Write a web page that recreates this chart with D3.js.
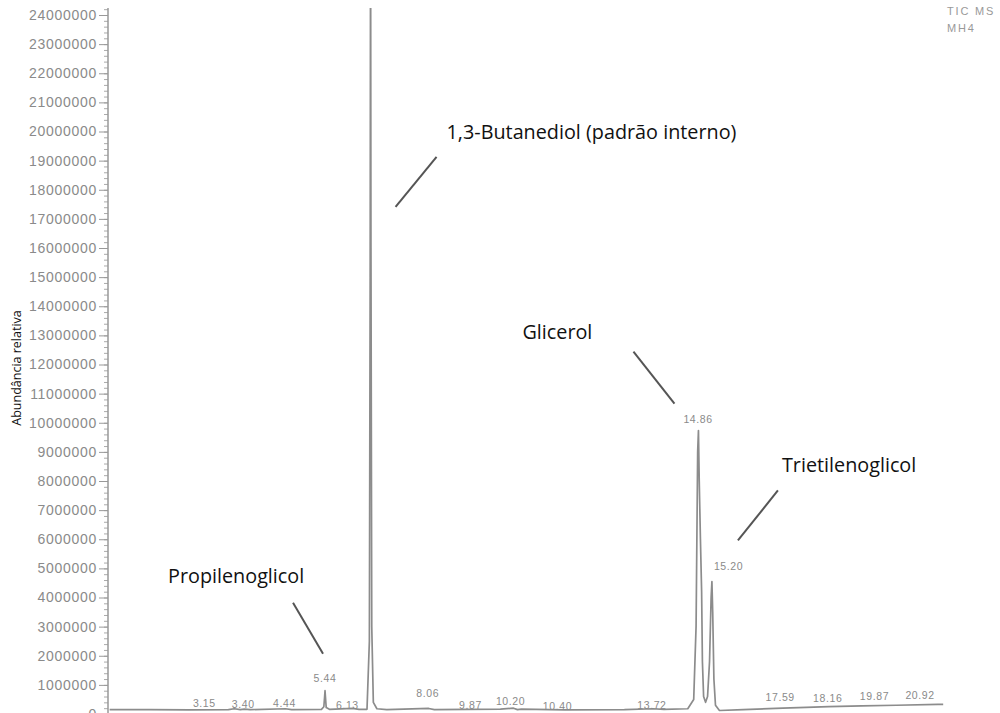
<!DOCTYPE html>
<html>
<head>
<meta charset="UTF-8">
<title>Cromatograma TIC</title>
<script src="https://cdn.jsdelivr.net/npm/d3@7/dist/d3.min.js"></script>
<style>
  body { margin: 0; background: #fff; }
  svg { display: block; }
  .tick text { font-family: "Liberation Sans", Arial, sans-serif; }
</style>
</head>
<body>
<script>
  // ---- data ----
  // trace: retention time (min) and abundance (counts)
  const traceTime = [0.00, 1.00, 2.00, 3.00, 3.15, 3.30, 3.40, 3.55, 4.44, 4.60, 5.35, 5.41, 5.43, 5.44, 5.45, 5.47, 5.55,
    6.13, 6.30, 6.50, 6.56, 6.58, 6.59, 6.60, 6.62, 6.66, 6.75, 7.00, 8.06, 8.20, 9.87, 10.20, 10.30, 10.40, 11.50,
    13.00, 13.72, 14.00, 14.60, 14.75, 14.81, 14.85, 14.87, 14.89, 14.92, 14.95, 14.97, 15.00, 15.05, 15.10, 15.15,
    15.19, 15.21, 15.23, 15.26, 15.30, 15.40, 16.00, 17.00, 17.59, 18.16, 19.00, 19.87, 20.92, 21.05];
  const traceAbund = [150000, 150000, 140000, 150000, 180000, 150000, 170000, 150000, 180000, 150000, 160000, 250000,
    600000, 800000, 600000, 220000, 160000,
    190000, 160000, 160000, 2500000, 15000000, 28000000, 16000000, 3000000, 400000, 180000, 150000, 190000, 150000,
    170000, 200000, 150000, 170000, 140000,
    150000, 180000, 160000, 180000, 500000, 3000000, 9000000, 9730000, 8000000, 6000000, 4200000, 1800000, 600000,
    400000, 600000, 1800000,
    4000000, 4550000, 3500000, 1200000, 300000, 120000, 150000, 200000, 230000, 250000, 280000, 300000, 330000, 330000];

  // labelled peaks (retention time, apex abundance)
  const peakTimes = [3.15, 3.40, 4.44, 5.44, 6.13, 8.06, 9.87, 10.20, 10.40, 13.72, 14.86, 15.20, 17.59, 18.16, 19.87, 20.92];
  const peakHeights = [180000, 170000, 180000, 800000, 190000, 190000, 170000, 200000, 170000, 180000, 9730000, 4550000,
    230000, 250000, 300000, 330000];

  // compound annotations
  const compoundNames = ["Propilenoglicol", "1,3-Butanediol (padrão interno)", "Glicerol", "Trietilenoglicol"];
  const compoundTimes = [5.44, 6.59, 14.87, 15.21];
  const compoundLevels = [800000, 17000000, 9730000, 4550000];

  const yTicks = d3.range(0, 24000001, 1000000);
  const yMinorTicks = d3.range(0, 24200001, 200000);
  const yTitle = "Abundância relativa";
  const cornerText = ["TIC MS", "MH4"];

  // ---- layout ----
  const w = 1000, h = 713;
  // label shift (px) relative to the peak, and lift above the apex
  const labelDx = [-30, -1, -1, 0, -5, -1, -30, -3, 36, -1, 0, 17, -26, -1, -22, -18];
  const labelLift = [2, 1, 2, 9, -1, 11, 0, 3, -1, 0, 8, 11, 6, 5, 5, 5];
  // annotation offsets from the anchor point: [line x1,y1,x2,y2, text x,y]
  const annotLayout = [
    [-32, -88, -2, -37, -157, -108],
    [66, -62, 25, -12, 76, -80],
    [-65, -79, -24, -27, -176, -92],
    [66, -91, 26, -41, 70, -109]
  ];

  const x = d3.scaleLinear().domain([0, 21]).range([109.6, 941.2]);
  const y = d3.scaleLinear().domain([0, 24000000]).range([714, 15]);

  const svg = d3.select("body").append("svg")
    .attr("width", w)
    .attr("height", h);

  svg.append("defs").append("clipPath").attr("id", "plot")
    .append("rect").attr("x", 109).attr("y", 8).attr("width", 900).attr("height", h);

  // y axis: minor ticks, then major ticks with labels
  svg.append("g")
    .attr("transform", "translate(108,0)")
    .call(d3.axisLeft(y).tickValues(yMinorTicks).tickSize(4).tickFormat(""))
    .call(g => g.select(".domain").remove())
    .call(g => g.selectAll("line").attr("stroke", "#aaa"));

  svg.append("g")
    .attr("transform", "translate(108,0)")
    .call(d3.axisLeft(y).tickValues(yTicks).tickSize(9).tickPadding(2).tickFormat(d3.format("d")))
    .call(g => g.select(".domain").remove())
    .call(g => g.selectAll("line").attr("stroke", "#999"))
    .call(g => g.selectAll("text")
      .attr("fill", "#8a8a8a")
      .style("font-size", "14px")
      .style("letter-spacing", "0.7px"));

  svg.append("line")
    .attr("x1", 108).attr("x2", 108)
    .attr("y1", 8).attr("y2", h)
    .attr("stroke", "#999")
    .attr("stroke-width", 1.5);

  // y title
  svg.append("text")
    .attr("transform", "translate(21,368) rotate(-90)")
    .attr("text-anchor", "middle")
    .style("font-family", "'Open Sans', sans-serif")
    .style("font-size", "12.5px")
    .attr("fill", "#111")
    .text(yTitle);

  // chromatogram trace
  const trace = traceTime.map((t, i) => [t, traceAbund[i]]);
  svg.append("path")
    .datum(trace)
    .attr("clip-path", "url(#plot)")
    .attr("fill", "none")
    .attr("stroke", "#8c8c8c")
    .attr("stroke-width", 1.7)
    .attr("stroke-linejoin", "round")
    .attr("d", d3.line().x(d => x(d[0])).y(d => y(d[1])));

  // retention time labels
  svg.selectAll("text.peak")
    .data(peakTimes)
    .enter()
    .append("text")
    .attr("class", "peak")
    .attr("x", (d, i) => x(d) + labelDx[i])
    .attr("y", (d, i) => y(peakHeights[i]) - labelLift[i])
    .attr("text-anchor", "middle")
    .attr("fill", "#8a8a8a")
    .style("font-family", "'Liberation Sans', Arial, sans-serif")
    .style("font-size", "10.5px")
    .style("letter-spacing", "0.6px")
    .text(d => d.toFixed(2));

  // compound annotations with leader lines
  compoundNames.forEach((name, i) => {
    const ax = x(compoundTimes[i]);
    const ay = y(compoundLevels[i]);
    const L = annotLayout[i];
    svg.append("line")
      .attr("x1", ax + L[0]).attr("y1", ay + L[1])
      .attr("x2", ax + L[2]).attr("y2", ay + L[3])
      .attr("stroke", "#555")
      .attr("stroke-width", 2);
    svg.append("text")
      .attr("x", ax + L[4])
      .attr("y", ay + L[5])
      .attr("fill", "#111")
      .style("font-family", "'Open Sans', sans-serif")
      .style("font-size", "19.8px")
      .text(name);
  });

  // corner header
  svg.selectAll("text.corner")
    .data(cornerText)
    .enter()
    .append("text")
    .attr("class", "corner")
    .attr("x", 947)
    .attr("y", (d, i) => 15 + i * 17)
    .attr("fill", "#999")
    .style("font-family", "'Liberation Sans', Arial, sans-serif")
    .style("font-size", "11px")
    .style("letter-spacing", "1.8px")
    .text(d => d);
</script>
</body>
</html>
